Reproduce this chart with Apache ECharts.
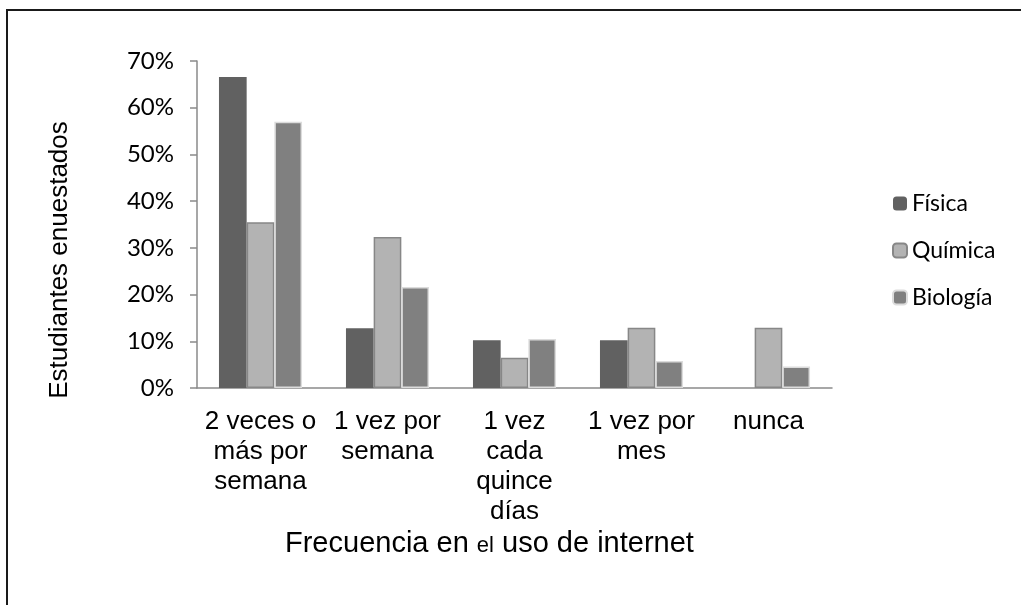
<!DOCTYPE html>
<html>
<head>
<meta charset="utf-8">
<script src="https://cdn.jsdelivr.net/npm/echarts@6/dist/echarts.min.js"></script>
<style>
  html, body { margin: 0; padding: 0; background: #fff; }
  #chart { width: 1021px; height: 605px; }
</style>
</head>
<body>
<div id="chart"></div>
<script>
// frecuencia en el uso de internet
const categories = ["2 veces o\nmás por\nsemana", "1 vez por\nsemana", "1 vez\ncada\nquince\ndías", "1 vez por\nmes", "nunca"];
const fisica = [66.6, 12.8, 10.2, 10.2, 0];
const quimica = [35.5, 32.3, 6.5, 12.9, 12.9];
const biologia = [57.0, 21.6, 10.5, 5.8, 4.6];
const yTicks = [0, 10, 20, 30, 40, 50, 60, 70];

const chart = echarts.init(document.getElementById("chart"));

const axisColor = "#8a8a8a";

chart.setOption({
  animation: false,
  backgroundColor: "#fff",
  grid: { left: 197, right: 189, top: 61, bottom: 217 },
  legend: {
    orient: "vertical",
    left: 887,
    top: 187,
    itemWidth: 14,
    itemHeight: 14,
    itemGap: 24,
    textStyle: { fontFamily: "Lato", fontSize: 23, color: "#000" },
    data: ["Física", "Química", "Biología"]
  },
  xAxis: {
    type: "category",
    data: categories,
    axisLine: { lineStyle: { color: axisColor, width: 1.5 } },
    axisTick: { length: 8, lineStyle: { color: axisColor, width: 1.5 } },
    axisLabel: {
      interval: 0,
      margin: 19,
      fontFamily: "Liberation Sans",
      fontSize: 26,
      lineHeight: 30,
      color: "#000"
    }
  },
  yAxis: {
    type: "value",
    min: yTicks[0],
    max: yTicks[yTicks.length - 1],
    interval: 10,
    splitLine: { show: false },
    axisLine: { show: true, lineStyle: { color: axisColor, width: 1.5 } },
    axisTick: { show: true, length: 7, lineStyle: { color: axisColor, width: 1.5 } },
    axisLabel: {
      margin: 23,
      formatter: "{value}%",
      fontFamily: "Lato",
      fontSize: 24,
      color: "#000"
    }
  },
  series: [
    {
      name: "Física",
      type: "bar",
      data: fisica,
      barGap: "0%",
      barCategoryGap: "34.6%",
      itemStyle: { color: "#616161" }
    },
    {
      name: "Química",
      type: "bar",
      data: quimica,
      itemStyle: { color: "#b3b3b3", borderColor: "#878787", borderWidth: 1.5 }
    },
    {
      name: "Biología",
      type: "bar",
      data: biologia,
      itemStyle: { color: "#808080", borderColor: "#dcdcdc", borderWidth: 1.5 }
    }
  ],
  graphic: [
    {
      type: "polyline",
      shape: { points: [[7, 605], [7, 10], [1021, 10]] },
      style: { stroke: "#1a1a1a", lineWidth: 2, fill: null }
    },
    {
      type: "text",
      x: 60,
      y: 260,
      rotation: Math.PI / 2,
      style: {
        text: "Estudiantes enuestados",
        font: "26px 'Liberation Sans'",
        fill: "#000",
        align: "center",
        verticalAlign: "middle"
      }
    },
    {
      type: "text",
      left: 285,
      top: 529,
      style: {
        text: "{a|Frecuencia en }{b|el}{a| uso de internet}",
        rich: {
          a: { fontFamily: "Liberation Sans", fontSize: 29, lineHeight: 32, fill: "#000" },
          b: { fontFamily: "Liberation Sans", fontSize: 22, lineHeight: 22, fill: "#000", verticalAlign: "bottom", padding: [0, 0, 3, 0] }
        }
      }
    }
  ]
});
</script>
</body>
</html>
